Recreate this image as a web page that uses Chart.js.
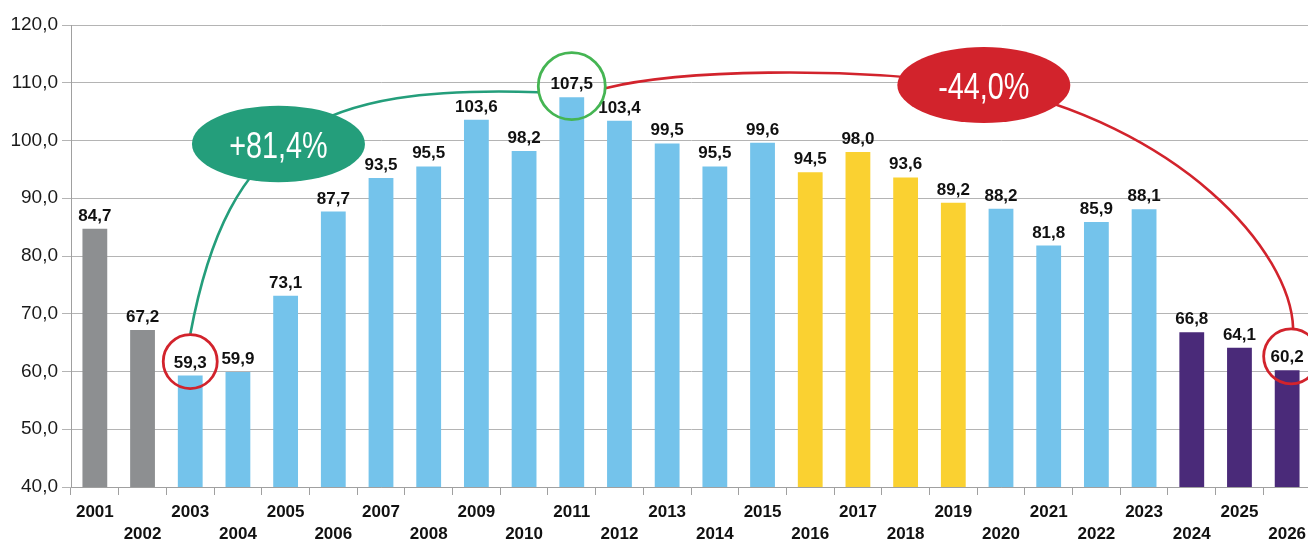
<!DOCTYPE html>
<html>
<head>
<meta charset="utf-8">
<script src="https://cdn.jsdelivr.net/npm/chart.js@4/dist/chart.umd.min.js"></script>
<style>
html,body{margin:0;padding:0;background:#fff;overflow:hidden;}
#wrap{position:relative;width:1320px;height:540px;}
</style>
</head>
<body>
<div id="wrap"><canvas id="c"></canvas></div>
<script>
// ---- data ----
const years = ['2001','2002','2003','2004','2005','2006','2007','2008','2009','2010','2011','2012','2013','2014','2015','2016','2017','2018','2019','2020','2021','2022','2023','2024','2025','2026'];
const values = [84.7,67.2,59.3,59.9,73.1,87.7,93.5,95.5,103.6,98.2,107.5,103.4,99.5,95.5,99.6,94.5,98.0,93.6,89.2,88.2,81.8,85.9,88.1,66.8,64.1,60.2];
const groups = ['g','g','b','b','b','b','b','b','b','b','b','b','b','b','b','y','y','y','y','b','b','b','b','p','p','p'];
const yTicks = [40,50,60,70,80,90,100,110,120];
const growthLabel = '+81,4%';
const dropLabel = '-44,0%';

const palette = {g:'#8d8f91', b:'#74c3eb', y:'#fad131', p:'#4a2a79'};
const fmt = v => v.toFixed(1).replace('.', ',');

const labelPlugin = {
  id:'vals',
  afterDatasetsDraw(chart){
    const ctx = chart.ctx;
    const meta = chart.getDatasetMeta(0);
    ctx.save();
    ctx.font = 'bold 17px "Liberation Sans", Arial, sans-serif';
    ctx.fillStyle = '#111';
    ctx.textAlign = 'center';
    ctx.textBaseline = 'alphabetic';
    meta.data.forEach((bar,i)=>{
      ctx.fillText(fmt(values[i]), bar.x, bar.y - 8);
    });
    ctx.restore();
  }
};

// annotation anchors in data space (category index, value)
const ann = {
  greenEllipse:{i:3.85, v:99.4, rx:86.5, ry:38.3},
  redEllipse:{i:18.64, v:109.6, rx:86.5, ry:38},
  greenC1:{i:2.80, v:101.8}, greenC2:{i:4.71, v:109.6},
  redA1:{i:12.27, v:112.2}, redA2:{i:15.62, v:112.9},
  redB1:{i:22.75, v:102.7}, redB2:{i:25.08, v:81.0},
  from:2, peak:10, to:25
};

const annPlugin = {
  id:'ann',
  afterDatasetsDraw(chart){
    const ctx = chart.ctx, xs = chart.scales.x, ys = chart.scales.y;
    const P = a => [xs.getPixelForValue(a.i), ys.getPixelForValue(a.v)];
    const meta = chart.getDatasetMeta(0);
    const circ = idx => ({x: meta.data[idx].x, y: meta.data[idx].y - 14});
    const c1 = circ(ann.from), c2 = circ(ann.peak), c3 = circ(ann.to);
    c2.y += 3; c3.x += 4;
    const r1 = 27, r2 = 33.5, r3 = 27.5;
    const ge = P(ann.greenEllipse), re = P(ann.redEllipse);
    ctx.save();
    ctx.lineWidth = 2.6;
    // green curve
    ctx.strokeStyle = '#249e7b';
    ctx.beginPath();
    ctx.moveTo(c1.x, c1.y - r1);
    let a = P(ann.greenC1), b = P(ann.greenC2);
    ctx.bezierCurveTo(a[0], a[1], b[0], b[1], c2.x - r2, c2.y + 6);
    ctx.stroke();
    // red curve
    ctx.strokeStyle = '#d2232c';
    ctx.beginPath();
    ctx.moveTo(c2.x + r2, c2.y + 2);
    a = P(ann.redA1); b = P(ann.redA2);
    ctx.bezierCurveTo(a[0], a[1], b[0], b[1], re[0], re[1]);
    a = P(ann.redB1); b = P(ann.redB2);
    ctx.bezierCurveTo(a[0], a[1], b[0], b[1], c3.x + 2, c3.y - r3);
    ctx.stroke();
    // ellipses
    const ell = (p, e, col, txt) => {
      ctx.fillStyle = col;
      ctx.beginPath();
      ctx.ellipse(p[0], p[1], e.rx, e.ry, 0, 0, Math.PI*2);
      ctx.fill();
      ctx.save();
      ctx.fillStyle = '#fff';
      ctx.font = '36px "Liberation Sans", Arial, sans-serif';
      ctx.textAlign = 'center';
      ctx.textBaseline = 'alphabetic';
      ctx.translate(p[0], p[1] + 14);
      ctx.scale(0.8, 1);
      ctx.fillText(txt, 0, 0);
      ctx.restore();
    };
    ell(ge, ann.greenEllipse, '#249e7b', growthLabel);
    ell(re, ann.redEllipse, '#d2232c', dropLabel);
    // circles
    ctx.lineWidth = 2.8;
    ctx.strokeStyle = '#d2232c';
    ctx.beginPath(); ctx.arc(c1.x, c1.y, r1, 0, Math.PI*2); ctx.stroke();
    ctx.beginPath(); ctx.arc(c3.x, c3.y, r3, 0, Math.PI*2); ctx.stroke();
    ctx.strokeStyle = '#45b553';
    ctx.beginPath(); ctx.arc(c2.x, c2.y, r2, 0, Math.PI*2); ctx.stroke();
    ctx.restore();
  }
};

new Chart(document.getElementById('c'), {
  type:'bar',
  data:{
    labels: years,
    datasets:[{
      data: values,
      backgroundColor: groups.map(g=>palette[g]),
      borderWidth:0,
      categoryPercentage:0.52,
      barPercentage:1
    }]
  },
  options:{
    responsive:true,
    maintainAspectRatio:false,
    animation:false,
    layout:{padding:{top:25,right:9,left:0,bottom:0}},
    plugins:{legend:{display:false},tooltip:{enabled:false}},
    scales:{
      x:{
        offset:true,
        grid:{display:true, drawOnChartArea:false, drawTicks:true, tickLength:8, color:'#a0a0a0', offset:true},
        border:{display:true, color:'#a0a0a0'},
        ticks:{
          autoSkip:false, maxRotation:0, minRotation:0, padding:7,
          color:'#111',
          font:{family:'"Liberation Sans", Arial, sans-serif', size:17, weight:'bold', lineHeight:1.25},
          callback:(v,i)=> i%2===0 ? years[i] : ['', years[i]]
        },
        afterFit:s=>{ s.height = 53; }
      },
      y:{
        min:yTicks[0], max:yTicks[yTicks.length-1],
        afterBuildTicks:s=>{ s.ticks = yTicks.map(v=>({value:v})); },
        grid:{color:'#b4b4b4', tickLength:9, lineWidth:1},
        border:{display:true, color:'#a0a0a0'},
        ticks:{
          padding:4, color:'#1a1a1a',
          font:{family:'"Liberation Sans", Arial, sans-serif', size:19},
          callback:v=>fmt(v)
        },
        afterFit:s=>{ s.width = 71; }
      }
    }
  },
  plugins:[labelPlugin, annPlugin]
});
</script>
</body>
</html>
